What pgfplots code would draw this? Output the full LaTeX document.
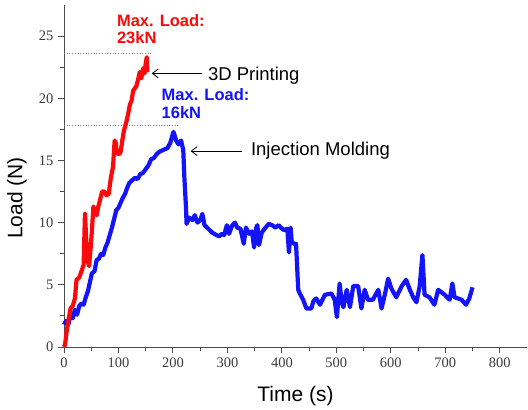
\documentclass[border=0pt]{standalone}
\usepackage{pgfplots}
\pgfplotsset{compat=1.18}
\usepackage{fontspec}
\setmainfont{Liberation Serif}
\newfontfamily\arial{Liberation Sans}
\usetikzlibrary{arrows.meta}
\definecolor{cred}{RGB}{250,10,10}
\definecolor{cblue}{RGB}{20,20,250}
\definecolor{axgray}{RGB}{75,75,75}
\definecolor{tickgray}{RGB}{60,60,60}
\begin{document}
\begin{tikzpicture}
\begin{axis}[
  scale only axis,
  width=463pt, height=342pt,
  xmin=0, xmax=850, ymin=0, ymax=27.5,
  axis lines=left,
  axis line style={-, draw=axgray, line width=0.9pt},
  xtick={0,100,...,800}, ytick={0,5,...,25},
  minor xtick={50,150,...,750}, minor ytick={2.5,7.5,...,22.5},
  tick align=outside,
  major tick length=6pt, minor tick length=4pt,
  tick style={draw=axgray, line width=0.9pt},
  /pgf/number format/assume math mode=true,
  tick label style={font=\fontsize{14.5}{14.5}\selectfont, text=tickgray},
  xticklabel style={yshift=-1pt},
  yticklabel style={xshift=-1pt},
  xlabel={\arial Time (s)},
  ylabel={\arial Load (N)},
  xlabel style={font=\fontsize{21}{21}\selectfont, at={(axis description cs:0.5,0)}, anchor=base, yshift=-54pt},
  ylabel style={font=\fontsize{21}{21}\selectfont, at={(axis description cs:0,0.436)}, anchor=center, yshift=47pt},
  clip=false,
]
% dotted max lines
\addplot[gray, dotted, line width=0.7pt] coordinates {(0,23.6) (161,23.6)};
\addplot[gray, dotted, line width=0.7pt] coordinates {(0,17.8) (213,17.8)};
% Injection molding (blue)
\addplot[cblue, line width=4.2pt, line join=round] coordinates {
(0,1.8) (4,2.1) (8,1.8) (12,2.6) (16,2.3) (20,3.0) (24,2.6) (28,3.3) (32,3.5) (36,3.4)
(40,4.0) (44,4.5) (48,5.3) (51,5.9) (56,6.1) (60,7.0) (64,7.1) (68,7.5) (72,7.4) (76,8.0)
(80,8.4) (84,9.0) (88,9.6) (92,10.3) (96,11.0) (100,11.2) (104,11.6) (108,12.0) (112,12.3)
(116,12.8) (120,13.2) (125,13.4) (130,13.6) (135,13.5) (140,13.9) (145,14.0) (150,14.3)
(155,14.6) (160,15.1) (165,15.2) (170,15.5) (175,15.7) (180,15.8) (185,15.9) (190,16.0)
(195,16.4) (201,17.3) (206,16.6) (210,16.3) (215,16.6) (219,15.8) (221,13.6) (224,11.2)
(225,9.9) (230,10.4) (236,10.2) (240,10.6) (245,10.0) (250,10.2) (254,10.7) (258,9.8)
(265,9.5) (272,9.2) (280,9.0) (285,8.9) (290,9.1) (294,9.0) (299,9.8) (303,9.1) (309,9.8)
(314,10.0) (318,9.6) (324,9.5) (330,8.3) (334,9.6) (340,9.1) (345,9.3) (349,8.0) (353,9.6)
(355,9.8) (358,8.2) (363,9.2) (370,9.6) (376,9.9) (382,9.8) (388,9.6) (394,9.8) (398,9.6)
(404,9.4) (410,9.5) (413,7.6) (416,9.6) (418,8.5) (422,8.3) (426,8.3) (430,4.6) (433,4.3)
(439,3.8) (445,3.1) (454,3.1) (458,3.7) (463,3.9) (470,3.4) (479,4.2) (491,4.3) (497,3.8)
(501,2.4) (506,5.1) (510,3.6) (513,3.2) (519,4.6) (525,3.2) (531,4.9) (540,4.9) (546,3.1)
(552,4.6) (558,3.8) (567,3.8) (577,4.6) (583,3.1) (590,4.4) (595,5.5) (601,4.7) (610,4.0)
(620,4.9) (628,5.4) (635,4.6) (641,4.0) (647,3.6) (653,4.9) (658,7.4) (662,4.2) (671,4.0)
(680,3.4) (687,4.6) (699,4.2) (708,3.8) (713,5.1) (717,4.0) (730,3.8) (738,3.4) (744,3.9)
(750,4.8)
};
% 3D printing (red)
\addplot[cred, line width=4.2pt, line join=round] coordinates {
(0,0) (2,0.2) (5,1.3) (8,2.1) (12,3.1) (16,3.3) (20,3.9) (23,5.4) (28,5.6) (33,6.2)
(36,6.6) (38.5,10.7) (41,8.5) (43,7.0) (46,6.5) (49,8.0) (51,9.2) (54,11.3) (57,10.8)
(60,10.6) (63,11.3) (66,11.8) (70,12.5) (74,12.5) (78,12.2) (82,12.3) (86,13.6) (90,14.5)
(93,16.6) (95,16.4) (97,15.6) (101,15.5) (104,15.7) (107,16.6) (110,17.4) (114,18.0)
(118,18.8) (121,19.5) (124,19.8) (127,20.6) (130,20.8) (133,21.0) (136,21.5) (139,22.1)
(142,21.6) (145,22.4) (148,22.0) (150,22.8) (152,23.3) (153,22.1)
};
% annotations
\node[anchor=base west, inner sep=0pt, text=cred, font=\arial\bfseries\fontsize{16.5}{17}\selectfont] at (axis cs:97,25.8) {Max. Load:};
\node[anchor=base west, inner sep=0pt, text=cred, font=\arial\bfseries\fontsize{16.5}{17}\selectfont] at (axis cs:97,24.4) {23kN};
\node[anchor=base west, inner sep=0pt, text=cblue, font=\arial\bfseries\fontsize{16.5}{17}\selectfont] at (axis cs:179,19.85) {Max. Load:};
\node[anchor=base west, inner sep=0pt, text=cblue, font=\arial\bfseries\fontsize{16.5}{17}\selectfont] at (axis cs:179,18.35) {16kN};
\draw[black, line width=0.8pt, -{Straight Barb[length=6pt,width=9pt]}] (axis cs:253,22.0) -- (axis cs:161,22.0);
\node[anchor=base west, inner sep=0pt, font=\arial\fontsize{18.5}{19}\selectfont] at (axis cs:264,21.46) {3D Printing};
\draw[black, line width=0.8pt, -{Straight Barb[length=6pt,width=9pt]}] (axis cs:326,15.75) -- (axis cs:232.5,15.75);
\node[anchor=base west, inner sep=0pt, font=\arial\fontsize{18.5}{19}\selectfont] at (axis cs:343,15.43) {Injection Molding};
\coordinate (bl) at (rel axis cs:0,0);
\coordinate (tr) at (rel axis cs:1,1);
\end{axis}
\pgfresetboundingbox
\path[use as bounding box] ([shift={(-64pt,-62pt)}]bl) rectangle ([shift={(1pt,5pt)}]tr);
\end{tikzpicture}
\end{document}
